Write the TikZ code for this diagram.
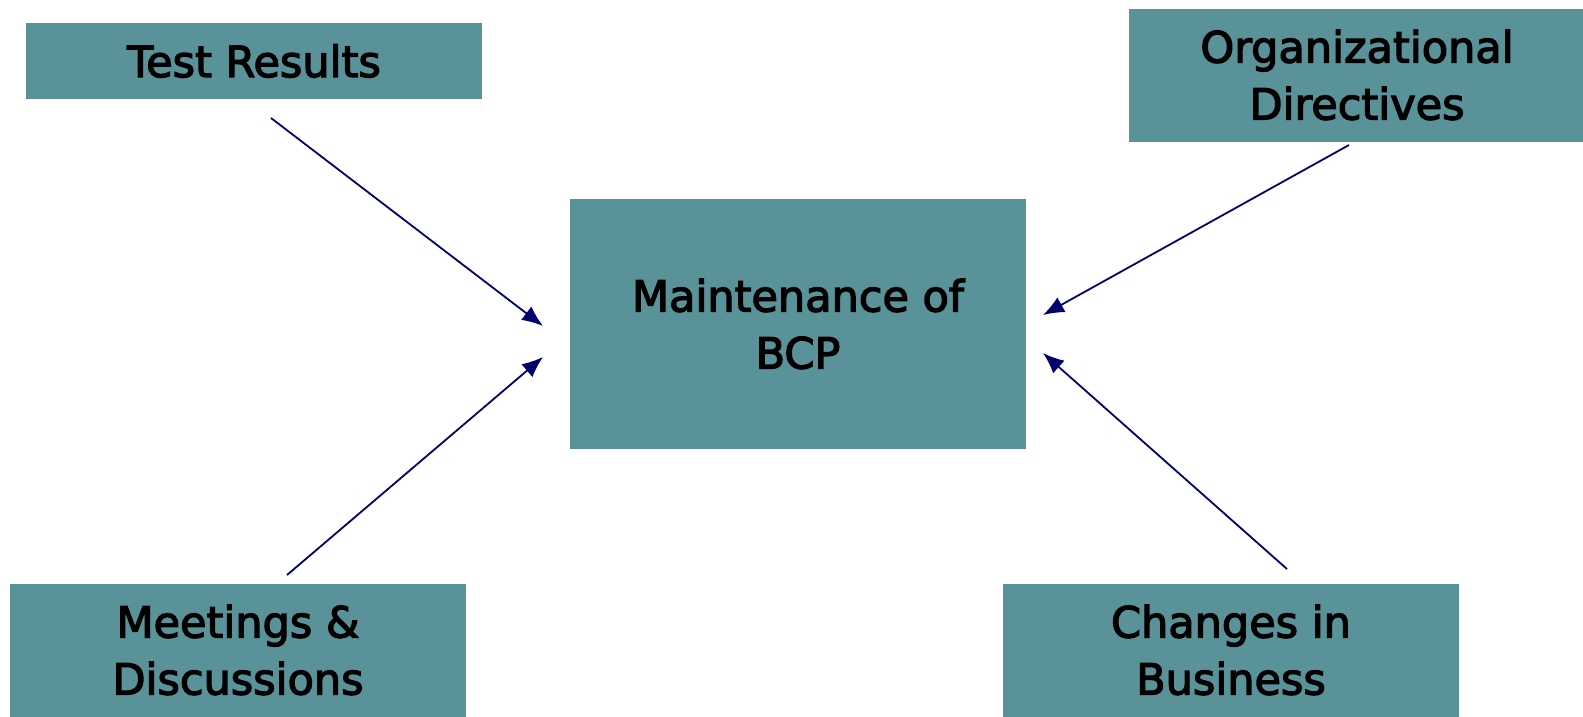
\documentclass[tikz,border=0pt]{standalone}
\usepackage{fontspec}
\setmainfont{DejaVu Sans}
\usetikzlibrary{arrows.meta}
\definecolor{boxteal}{RGB}{90,146,153}
\definecolor{arrnavy}{RGB}{0,0,110}
\tikzset{
    BX/.style ={rectangle, fill=boxteal, inner sep=0pt, align=center, minimum width=456pt,
                font=\fontsize{43}{57}\selectfont\addfontfeature{FakeBold=3}},
    BX1/.style ={BX, minimum height=76pt},
    BX2/.style ={BX, minimum height=133pt},
    BX3/.style ={BX, minimum height=250pt},
    AR/.style ={draw=arrnavy, line width=1.8pt, -{Latex[length=21pt,width=17pt]}}}

\begin{document}
\begin{tikzpicture}[x=1pt,y=-1pt]
        \useasboundingbox (0,0) rectangle (1583,716);
        \node[BX1] (test) at(254,61){Test Results};
        \node[BX2] (org) at(1357,75){Organizational\\Directives};
        \node[BX3] (bcp) at(798,324){Maintenance of\\BCP};
        \node[BX2] (meet) at(238,650){Meetings \&\\Discussions};
        \node[BX2] (chg) at(1231,650){Changes in\\Business};
        % free ends of the arrows
        \coordinate (test-out) at(271,118);
        \coordinate (org-out) at(1349,145);
        \coordinate (meet-out) at(287,575);
        \coordinate (chg-out) at(1287,569);
        \coordinate (bcp-in1) at(543,326);
        \coordinate (bcp-in2) at(543,357);
        \coordinate (bcp-in3) at(1043,315);
        \coordinate (bcp-in4) at(1043,353);
        \draw[AR] (test-out) --(bcp-in1);
        \draw[AR] (meet-out) --(bcp-in2);
        \draw[AR] (org-out) --(bcp-in3);
        \draw[AR] (chg-out) --(bcp-in4);
    \end{tikzpicture}
\end{document}
